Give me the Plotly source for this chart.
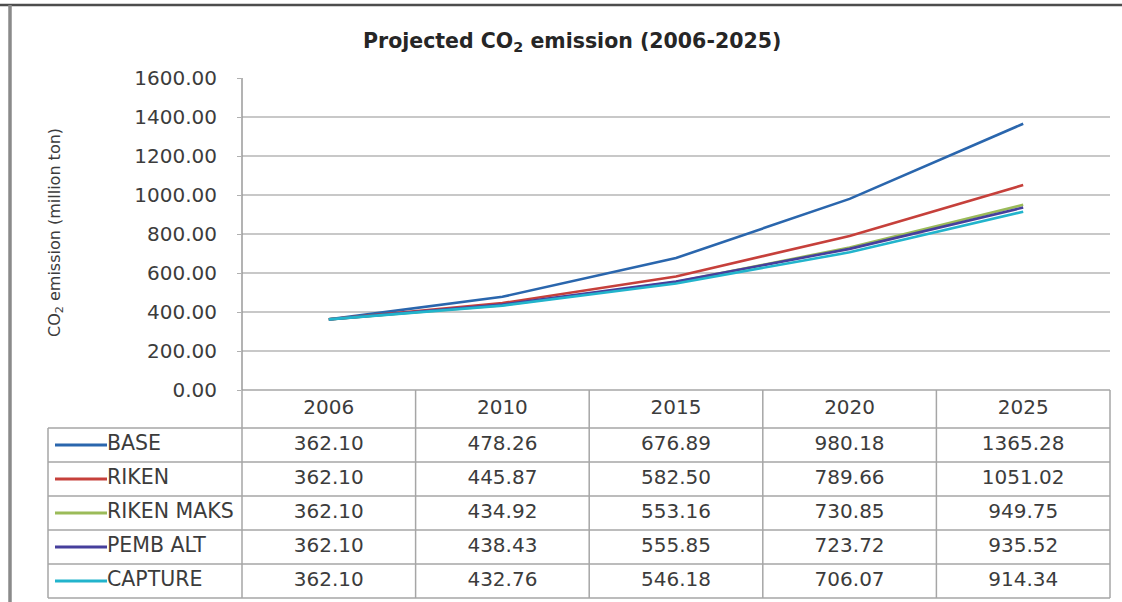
import plotly.graph_objects as go

# ---- data ----
years = ["2006", "2010", "2015", "2020", "2025"]
series_names = ["BASE", "RIKEN", "RIKEN MAKS", "PEMB ALT", "CAPTURE"]
base = [362.10, 478.26, 676.89, 980.18, 1365.28]
riken = [362.10, 445.87, 582.50, 789.66, 1051.02]
riken_maks = [362.10, 434.92, 553.16, 730.85, 949.75]
pemb_alt = [362.10, 438.43, 555.85, 723.72, 935.52]
capture = [362.10, 432.76, 546.18, 706.07, 914.34]
y_ticks = [0, 200, 400, 600, 800, 1000, 1200, 1400, 1600]

series_values = [base, riken, riken_maks, pemb_alt, capture]
colors = ["#2a66ad", "#c6403b", "#9bbb59", "#463f9c", "#22b4cc"]

# ---- page geometry (pixels) ----
W, H = 1122, 602
PLOT_L, PLOT_R = 242, 1110
PLOT_T, PLOT_B = 78, 390
TABLE_L = 48
HEAD_B = 428
ROW_H = 34
N_ROWS = len(series_names)
TABLE_B = HEAD_B + ROW_H * N_ROWS
COL_W = (PLOT_R - PLOT_L) / len(years)

def fx(px):
    return px / W

def fy(py):
    return 1 - py / H

FONT = "DejaVu Sans"
TXT = "#3c3c3c"

xs = list(range(len(years)))
fig = go.Figure()

# chart lines
for name, vals, col in zip(series_names, series_values, colors):
    fig.add_trace(go.Scatter(
        x=xs, y=vals, mode="lines", name=name,
        line=dict(color=col, width=2.6),
        xaxis="x", yaxis="y", showlegend=False, hoverinfo="skip",
    ))

# data table: header years
head_units = (HEAD_B - PLOT_B) / ROW_H
fig.add_trace(go.Scatter(
    x=xs, y=[-head_units / 2] * len(years), text=years, mode="text",
    textfont=dict(family=FONT, size=20, color=TXT),
    xaxis="x2", yaxis="y2", showlegend=False, cliponaxis=False, hoverinfo="skip",
))

# data table: values, legend keys and labels
x_left = -0.5 - (PLOT_L - TABLE_L) / COL_W
key_x0 = x_left + (55 - TABLE_L) / COL_W
key_x1 = x_left + (107 - TABLE_L) / COL_W
lab_x = x_left + (107 - TABLE_L) / COL_W
for i, (name, vals, col) in enumerate(zip(series_names, series_values, colors)):
    yc = i + 0.5
    fig.add_trace(go.Scatter(
        x=xs, y=[yc] * len(vals), text=[f"{v:.2f}" for v in vals], mode="text",
        textfont=dict(family=FONT, size=20, color=TXT),
        xaxis="x2", yaxis="y2", showlegend=False, cliponaxis=False, hoverinfo="skip",
    ))
    fig.add_trace(go.Scatter(
        x=[key_x0, key_x1], y=[yc, yc], mode="lines",
        line=dict(color=col, width=3),
        xaxis="x2", yaxis="y2", showlegend=False, cliponaxis=False, hoverinfo="skip",
    ))
    fig.add_trace(go.Scatter(
        x=[lab_x], y=[yc], text=[name], mode="text", textposition="middle right",
        textfont=dict(family=FONT, size=20.5, color=TXT),
        xaxis="x2", yaxis="y2", showlegend=False, cliponaxis=False, hoverinfo="skip",
    ))

# table grid and outer frame
shapes = []
GRID_T = "#a6a6a6"
def hline(y, x0, x1, color=GRID_T, width=1.5):
    shapes.append(dict(type="line", xref="paper", yref="paper",
                       x0=fx(x0), x1=fx(x1), y0=fy(y), y1=fy(y),
                       line=dict(color=color, width=width)))

def vline(x, y0, y1, color=GRID_T, width=1.5):
    shapes.append(dict(type="line", xref="paper", yref="paper",
                       x0=fx(x), x1=fx(x), y0=fy(y0), y1=fy(y1),
                       line=dict(color=color, width=width)))

hline(PLOT_B, PLOT_L, PLOT_R)
for r in range(N_ROWS + 1):
    hline(HEAD_B + r * ROW_H, TABLE_L, PLOT_R)
vline(TABLE_L, HEAD_B, TABLE_B)
for c in range(len(years) + 1):
    vline(PLOT_L + c * COL_W, PLOT_B, TABLE_B)
vline(PLOT_L, PLOT_T, PLOT_B, color="#9a9a9a", width=1.5)

# frame around the chart
hline(5, 0, W, color="#4d4d4d", width=2.5)
vline(10, 5, H, color="#8a8a8a", width=3.5)

fig.update_layout(
    template="none",
    width=W, height=H,
    margin=dict(l=0, r=0, t=0, b=0, pad=0, autoexpand=False),
    paper_bgcolor="white", plot_bgcolor="white",
    font=dict(family=FONT, color=TXT),
    showlegend=False,
    xaxis=dict(domain=[fx(PLOT_L), fx(PLOT_R)], range=[-0.5, 4.5],
               showticklabels=False, showgrid=False, zeroline=False, showline=False,
               ticks="", automargin=False),
    yaxis=dict(domain=[fy(PLOT_B), fy(PLOT_T)], range=[0, 1600],
               tickvals=y_ticks, tickformat=".2f",
               tickfont=dict(family=FONT, size=20, color=TXT),
               ticks="outside", ticklen=4, tickcolor="#b0b0b0",
               ticklabelstandoff=16, automargin=False,
               showgrid=True, gridcolor="#c8c8c8", gridwidth=2,
               zeroline=False, showline=False),
    xaxis2=dict(domain=[fx(TABLE_L), fx(PLOT_R)], range=[x_left, 4.5],
                anchor="y2", visible=False, automargin=False),
    yaxis2=dict(domain=[fy(TABLE_B), fy(PLOT_B)], range=[N_ROWS, -head_units],
                anchor="x2", visible=False, automargin=False),
    shapes=shapes,
    annotations=[
        dict(text="<b>Projected CO<sub>2</sub> emission (2006-2025)</b>",
             xref="paper", yref="paper", x=fx(572), y=fy(42),
             xanchor="center", yanchor="middle", showarrow=False,
             font=dict(family=FONT, size=20.5, color="#262626")),
        dict(text="CO<sub>2</sub> emission (million ton)",
             xref="paper", yref="paper", x=fx(56), y=fy(233),
             xanchor="center", yanchor="middle", showarrow=False, textangle=-90,
             font=dict(family=FONT, size=16, color=TXT)),
    ],
)

fig.write_html("out.html")
